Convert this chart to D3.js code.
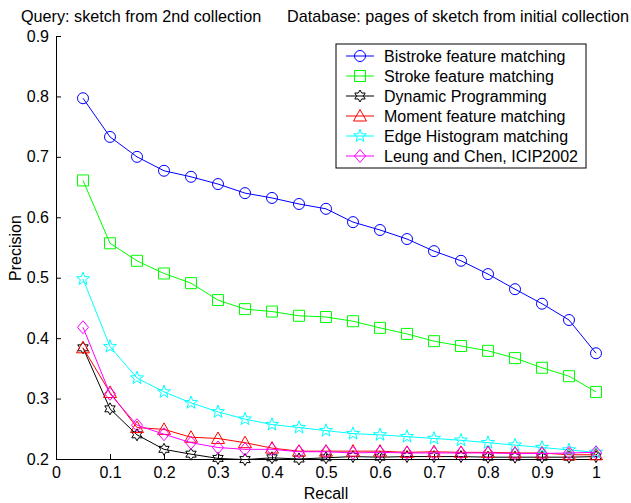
<!DOCTYPE html>
<html>
<head>
<meta charset="utf-8">
<script src="https://cdn.jsdelivr.net/npm/d3@7"></script>
<style>
  body { margin: 0; background: #fff; }
  svg { font-family: "Liberation Sans", Arial, sans-serif; }
</style>
</head>
<body>
<svg id="chart" width="631" height="503"></svg>
<script>
// recall levels and precision per method
const recall = [0.05, 0.10, 0.15, 0.20, 0.25, 0.30, 0.35, 0.40, 0.45, 0.50,
                0.55, 0.60, 0.65, 0.70, 0.75, 0.80, 0.85, 0.90, 0.95, 1.00];
const bistroke = [0.797, 0.733, 0.700, 0.677, 0.667, 0.655, 0.640, 0.632, 0.622, 0.614,
                  0.592, 0.579, 0.564, 0.544, 0.528, 0.506, 0.481, 0.457, 0.430, 0.375];
const stroke = [0.661, 0.557, 0.528, 0.507, 0.491, 0.463, 0.448, 0.444, 0.437, 0.435,
                0.428, 0.417, 0.407, 0.395, 0.387, 0.379, 0.367, 0.351, 0.337, 0.311];
const dynProg = [0.384, 0.283, 0.240, 0.216, 0.208, 0.201, 0.199, 0.202, 0.200, 0.202,
                 0.204, 0.203, 0.204, 0.204, 0.204, 0.203, 0.203, 0.203, 0.203, 0.204];
const moment = [0.384, 0.310, 0.252, 0.249, 0.236, 0.234, 0.227, 0.218, 0.213, 0.213,
                0.213, 0.213, 0.211, 0.212, 0.211, 0.211, 0.210, 0.210, 0.207, 0.207];
const edgeHist = [0.498, 0.386, 0.334, 0.311, 0.293, 0.278, 0.266, 0.257, 0.252, 0.247,
                  0.242, 0.240, 0.237, 0.234, 0.231, 0.227, 0.223, 0.219, 0.215, 0.211];
const leung = [0.418, 0.308, 0.256, 0.241, 0.227, 0.219, 0.216, 0.216, 0.212, 0.212,
               0.210, 0.211, 0.210, 0.210, 0.210, 0.210, 0.209, 0.209, 0.210, 0.211];

const xTicks = [0, 0.1, 0.2, 0.3, 0.4, 0.5, 0.6, 0.7, 0.8, 0.9, 1];
const yTicks = [0.2, 0.3, 0.4, 0.5, 0.6, 0.7, 0.8, 0.9];

const seriesNames = ['Bistroke feature matching', 'Stroke feature matching', 'Dynamic Programming',
                     'Moment feature matching', 'Edge Histogram matching', 'Leung and Chen, ICIP2002'];
const seriesValues = [bistroke, stroke, dynProg, moment, edgeHist, leung];
const seriesColors = ['#0000ff', '#00ff00', '#000000', '#ff0000', '#00ffff', '#ff00ff'];
const seriesMarkers = ['circle', 'square', 'hexagram', 'triangle', 'pentagram', 'diamond'];

const svg = d3.select('#chart');
const x = d3.scaleLinear().domain([0, 1]).range([56, 596]);
const y = d3.scaleLinear().domain([0.2, 0.9]).range([459, 36]);

function starPath(n, rOut, rIn) {
    const pts = [];
    for (let i = 0; i < 2 * n; i++) {
        const r = i % 2 === 0 ? rOut : rIn;
        const a = -Math.PI / 2 + i * Math.PI / n;
        pts.push([r * Math.cos(a), r * Math.sin(a)]);
    }
    return 'M' + pts.map(p => p[0].toFixed(2) + ',' + p[1].toFixed(2)).join('L') + 'Z';
}

const markerPath = {
    circle: 'M5.5,0A5.5,5.5 0 1,1 -5.5,0A5.5,5.5 0 1,1 5.5,0Z',
    square: 'M-5.5,-5.5H5.5V5.5H-5.5Z',
    triangle: 'M0,-6.5L6.5,5L-6.5,5Z',
    diamond: 'M0,-6.5L5.5,0L0,6.5L-5.5,0Z',
    pentagram: starPath(5, 6.8, 2.8),
    hexagram: starPath(6, 6, 3.4)
};

// axes
const xAxis = d3.axisBottom(x).tickValues(xTicks).tickFormat(d3.format('~g'))
    .tickSizeInner(-5).tickSizeOuter(0).tickPadding(8);
const yAxis = d3.axisLeft(y).tickValues(yTicks).tickFormat(d3.format('.1f'))
    .tickSizeInner(-5).tickSizeOuter(0).tickPadding(7);

const gx = svg.append('g').attr('transform', 'translate(0,459)').call(xAxis);
const gy = svg.append('g').attr('transform', 'translate(56,0)').call(yAxis);
[gx, gy].forEach(g => {
    g.selectAll('text').attr('font-size', 16).attr('fill', '#000')
        .attr('font-family', '"Liberation Sans", Arial, sans-serif');
    g.selectAll('line, path').attr('stroke', '#000');
});

// series
const line = d3.line().x((d, i) => x(recall[i])).y(d => y(d));
seriesValues.forEach((vals, k) => {
    const g = svg.append('g');
    g.append('path').datum(vals)
        .attr('d', line)
        .attr('fill', 'none')
        .attr('stroke', seriesColors[k])
        .attr('stroke-width', 1);
    g.selectAll('path.mk').data(vals).join('path')
        .attr('class', 'mk')
        .attr('transform', (d, i) => `translate(${x(recall[i])},${y(d)})`)
        .attr('d', markerPath[seriesMarkers[k]])
        .attr('fill', 'none')
        .attr('stroke', seriesColors[k])
        .attr('stroke-width', 1);
});

// labels
svg.append('text').attr('x', 21).attr('y', 22).attr('font-size', 16.2)
    .text('Query: sketch from 2nd collection');
svg.append('text').attr('x', 629).attr('y', 22).attr('font-size', 16.2).attr('text-anchor', 'end')
    .text('Database: pages of sketch from initial collection');
svg.append('text').attr('x', 326).attr('y', 499).attr('font-size', 16).attr('text-anchor', 'middle')
    .text('Recall');
svg.append('text').attr('transform', 'translate(21,248) rotate(-90)').attr('font-size', 16)
    .attr('text-anchor', 'middle').text('Precision');

// legend
const legend = svg.append('g').attr('transform', 'translate(336,44)');
legend.append('rect').attr('width', 250).attr('height', 124)
    .attr('fill', '#fff').attr('stroke', '#000').attr('stroke-width', 1);
const entries = legend.selectAll('g').data(seriesNames).join('g')
    .attr('transform', (d, i) => `translate(0,${12 + i * 20})`);
entries.append('line').attr('x1', 10).attr('x2', 38)
    .attr('stroke', (d, i) => seriesColors[i]).attr('stroke-width', 1);
entries.append('path').attr('transform', 'translate(24,0)')
    .attr('d', (d, i) => markerPath[seriesMarkers[i]])
    .attr('fill', 'none').attr('stroke', (d, i) => seriesColors[i]);
entries.append('text').attr('x', 48).attr('y', 6).attr('font-size', 16).text(d => d);
</script>
</body>
</html>
